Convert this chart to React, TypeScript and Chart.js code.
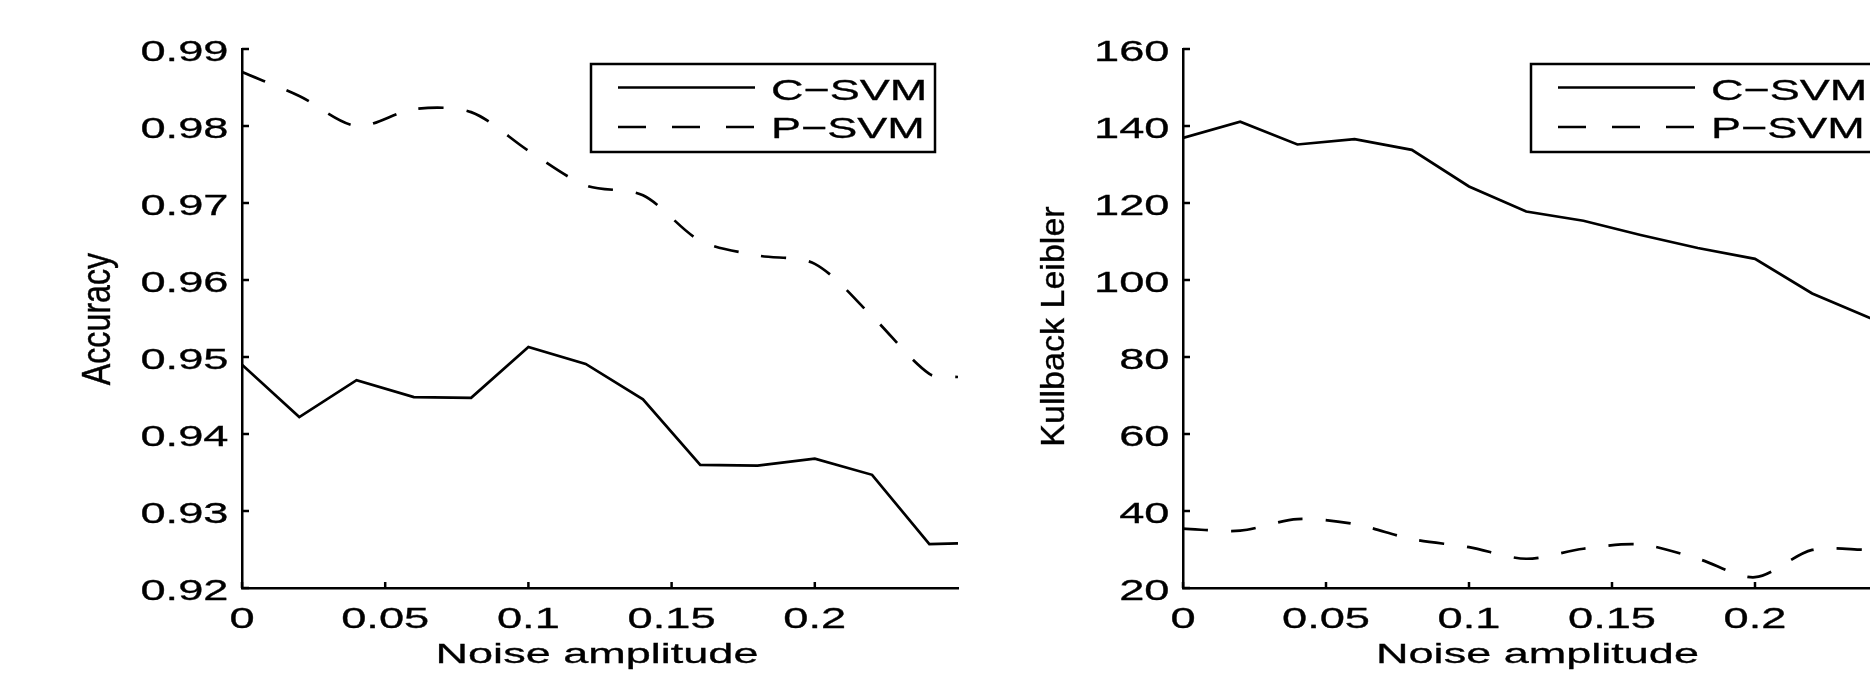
import React, { useEffect, useRef } from 'react';
import { Chart, registerables } from 'chart.js';

Chart.register(...registerables);

// ---------- data ----------
const noiseAmplitude = [0, 0.02, 0.04, 0.06, 0.08, 0.1, 0.12, 0.14, 0.16, 0.18, 0.2, 0.22, 0.24, 0.25];

const accuracyCSVM = [0.949, 0.9422, 0.947, 0.9448, 0.9447, 0.9513, 0.9491, 0.9445, 0.936, 0.9359, 0.9368, 0.9347, 0.9257, 0.9258];
const accuracyPSVM = [0.987, 0.9839, 0.98, 0.9822, 0.9818, 0.9768, 0.9723, 0.971, 0.9651, 0.9632, 0.9621, 0.9553, 0.9478, 0.9474];

const klCSVM = [136.9, 141.1, 135.2, 136.6, 133.8, 124.3, 117.8, 115.4, 111.7, 108.3, 105.5, 96.5, 90.2, 87.5];
const klPSVM = [35.4, 34.9, 37.9, 36.6, 32.7, 30.6, 27.6, 30.2, 31.3, 27.6, 22.8, 29.9, 29.9, 30.0];

const xTickValues = [0, 0.05, 0.1, 0.15, 0.2];
const xTickLabels = ['0', '0.05', '0.1', '0.15', '0.2'];

const accTickValues = [0.92, 0.93, 0.94, 0.95, 0.96, 0.97, 0.98, 0.99];
const accTickLabels = ['0.92', '0.93', '0.94', '0.95', '0.96', '0.97', '0.98', '0.99'];

const klTickValues = [20, 40, 60, 80, 100, 120, 140, 160];
const klTickLabels = ['20', '40', '60', '80', '100', '120', '140', '160'];

const seriesNames = ['C\u2212SVM', 'P\u2212SVM'];
const xAxisTitle = 'Noise amplitude';
const accAxisTitle = 'Accuracy';
const klAxisTitle = 'Kullback Leibler';

// ---------- drawing helpers ----------
const FONT = '"Liberation Sans", Arial, Helvetica, sans-serif';

function drawStretched(ctx: CanvasRenderingContext2D, text: string, x: number, y: number, size: number, sx: number, align: 'left' | 'center' | 'right') {
  ctx.save();
  ctx.font = `${size}px ${FONT}`;
  ctx.textBaseline = 'alphabetic';
  ctx.textAlign = 'left';
  const w = ctx.measureText(text).width * sx;
  let x0 = x;
  if (align === 'center') x0 = x - w / 2;
  else if (align === 'right') x0 = x - w;
  ctx.translate(x0, y);
  ctx.scale(sx, 1);
  ctx.fillStyle = '#000';
  ctx.strokeStyle = '#000';
  ctx.lineWidth = 0.3;
  ctx.fillText(text, 0, 0);
  ctx.strokeText(text, 0, 0);
  ctx.restore();
}

function drawRotated(ctx: CanvasRenderingContext2D, text: string, baselineX: number, centerY: number, size: number, sLen: number, sThick: number) {
  ctx.save();
  ctx.font = `${size}px ${FONT}`;
  ctx.textBaseline = 'alphabetic';
  ctx.textAlign = 'center';
  ctx.translate(baselineX, centerY);
  ctx.rotate(-Math.PI / 2);
  ctx.scale(sLen, sThick);
  ctx.fillStyle = '#000';
  ctx.strokeStyle = '#000';
  ctx.lineWidth = 0.3;
  ctx.fillText(text, 0, 0);
  ctx.strokeText(text, 0, 0);
  ctx.restore();
}

interface PanelCfg {
  c: number[];
  p: number[];
  yMin: number;
  yMax: number;
  yTicks: number[];
  yLabels: string[];
  yTitle: string;
  yAxisWidth: number;
  padRight: number;
  yTitleOffset: number;
  yTitleShift: number;
  yTitleSize: number;
  yTitleLen: number;
  yTitleThick: number;
}

function decorPlugin(cfg: PanelCfg) {
  return {
    id: 'matlabDecor',
    afterDraw(chart: any) {
      const ctx: CanvasRenderingContext2D = chart.ctx;
      const { left, right, top, bottom } = chart.chartArea;
      const xs = chart.scales.x;
      const ys = chart.scales.y;
      ctx.save();
      ctx.strokeStyle = '#000';
      ctx.lineWidth = 2.5;
      ctx.lineCap = 'butt';
      // y ticks (inward) + labels
      cfg.yTicks.forEach((v, i) => {
        const py = ys.getPixelForValue(v);
        ctx.beginPath();
        ctx.moveTo(left, py);
        ctx.lineTo(left + 7, py);
        ctx.stroke();
        drawStretched(ctx, cfg.yLabels[i], left - 13.5, py + 11.6, 29, 1.56, 'right');
      });
      // x ticks (inward) + labels
      xTickValues.forEach((v, i) => {
        const px = xs.getPixelForValue(v);
        ctx.beginPath();
        ctx.moveTo(px, bottom);
        ctx.lineTo(px, bottom - 6);
        ctx.stroke();
        drawStretched(ctx, xTickLabels[i], px, bottom + 39.5, 29, 1.56, 'center');
      });
      // axis titles
      drawStretched(ctx, xAxisTitle, (left + right) / 2 - 3, bottom + 74.5, 28.5, 1.58, 'center');
      drawRotated(ctx, cfg.yTitle, left - cfg.yTitleOffset, (top + bottom) / 2 + cfg.yTitleShift, cfg.yTitleSize, cfg.yTitleLen, cfg.yTitleThick);

      // legend
      const boxR = right - 23;
      const boxL = boxR - 344;
      const boxT = top + 15;
      const boxH = 88;
      ctx.fillStyle = '#fff';
      ctx.fillRect(boxL, boxT, boxR - boxL, boxH);
      ctx.lineWidth = 2.5;
      ctx.strokeRect(boxL, boxT, boxR - boxL, boxH);
      ctx.lineWidth = 2.6;
      ctx.beginPath();
      ctx.moveTo(boxL + 27, boxT + 23.5);
      ctx.lineTo(boxL + 164, boxT + 23.5);
      ctx.stroke();
      ctx.setLineDash([28, 26]);
      ctx.beginPath();
      ctx.moveTo(boxL + 27, boxT + 63);
      ctx.lineTo(boxL + 164, boxT + 63);
      ctx.stroke();
      ctx.setLineDash([]);
      drawStretched(ctx, seriesNames[0], boxL + 180, boxT + 36, 30, 1.5, 'left');
      drawStretched(ctx, seriesNames[1], boxL + 180, boxT + 74, 30, 1.5, 'left');
      ctx.restore();
    },
  };
}

function makeConfig(cfg: PanelCfg): any {
  const hiddenGrid = { display: true, color: 'rgba(0,0,0,0)', drawOnChartArea: false, drawTicks: false };
  const border = { display: true, color: '#000', width: 2.5 };
  return {
    type: 'line',
    data: {
      datasets: [
        {
          label: seriesNames[0],
          data: noiseAmplitude.map((x, i) => ({ x, y: cfg.c[i] })),
          borderColor: '#000',
          borderWidth: 2.7,
          pointRadius: 0,
          tension: 0,
          fill: false,
        },
        {
          label: seriesNames[1],
          data: noiseAmplitude.map((x, i) => ({ x, y: cfg.p[i] })),
          borderColor: '#000',
          borderWidth: 2.7,
          borderDash: [25, 23],
          pointRadius: 0,
          tension: 0.3,
          fill: false,
        },
      ],
    },
    options: {
      responsive: false,
      maintainAspectRatio: false,
      animation: false,
      devicePixelRatio: 1,
      events: [],
      layout: { padding: { top: 49, right: cfg.padRight, left: 0, bottom: 0 } },
      plugins: { legend: { display: false }, tooltip: { enabled: false }, title: { display: false } },
      scales: {
        x: {
          type: 'linear',
          min: 0,
          max: 0.25,
          ticks: { display: false },
          grid: hiddenGrid,
          border,
          afterFit(s: any) {
            s.height = 89;
          },
        },
        y: {
          type: 'linear',
          min: cfg.yMin,
          max: cfg.yMax,
          ticks: { display: false },
          grid: hiddenGrid,
          border,
          afterFit(s: any) {
            s.width = cfg.yAxisWidth;
          },
        },
      },
    },
    plugins: [decorPlugin(cfg)],
  };
}

export default function App() {
  const leftRef = useRef<HTMLCanvasElement>(null);
  const rightRef = useRef<HTMLCanvasElement>(null);

  useEffect(() => {
    const left = new Chart(
      leftRef.current as HTMLCanvasElement,
      makeConfig({
        c: accuracyCSVM,
        p: accuracyPSVM,
        yMin: 0.92,
        yMax: 0.99,
        yTicks: accTickValues,
        yLabels: accTickLabels,
        yTitle: accAxisTitle,
        yAxisWidth: 242,
        padRight: 42,
        yTitleOffset: 132,
        yTitleShift: 0.5,
        yTitleSize: 28,
        yTitleLen: 1.15,
        yTitleThick: 1.45,
      })
    );
    const right = new Chart(
      rightRef.current as HTMLCanvasElement,
      makeConfig({
        c: klCSVM,
        p: klPSVM,
        yMin: 20,
        yMax: 160,
        yTicks: klTickValues,
        yLabels: klTickLabels,
        yTitle: klAxisTitle,
        yAxisWidth: 183,
        padRight: 102,
        yTitleOffset: 119,
        yTitleShift: 8,
        yTitleSize: 30,
        yTitleLen: 1.135,
        yTitleThick: 1.1,
      })
    );
    return () => {
      left.destroy();
      right.destroy();
    };
  }, []);

  return (
    <div
      style={{
        position: 'fixed',
        left: 0,
        top: 0,
        width: 1870,
        height: 677,
        overflow: 'hidden',
        background: '#fff',
      }}
    >
      <canvas ref={leftRef} width={1000} height={677} style={{ position: 'absolute', left: 0, top: 0, width: 1000, height: 677 }} />
      <canvas ref={rightRef} width={1000} height={677} style={{ position: 'absolute', left: 1000, top: 0, width: 1000, height: 677 }} />
    </div>
  );
}
